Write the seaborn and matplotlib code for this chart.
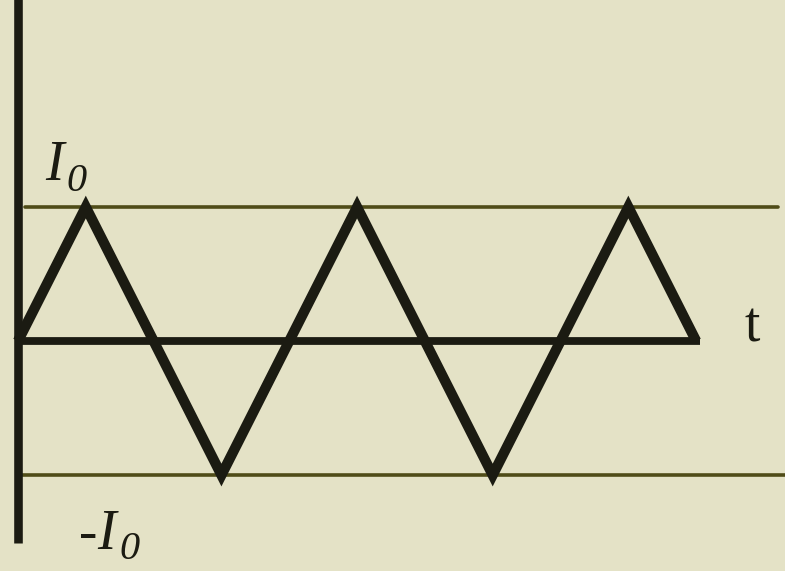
import pandas as pd
import matplotlib
matplotlib.use('Agg')
import matplotlib.pyplot as plt
import seaborn as sns

# triangle wave corners, time in quarter periods, current in units of I0
tiempo = [0, 1, 3, 5, 7, 9, 10]
corriente = [0, 1, -1, 1, -1, 1, 0]

# labels (letter + subscript drawn separately so the 0 stays italic)
letra = 'I'
subindice = '0'
signo = '-'
etiqueta_t = 't'

fondo = '#e4e2c6'
tinta = '#1b1b12'
oliva = '#4f4c18'

sns.set_theme(style="white")
plt.rcParams['font.family'] = ['Liberation Serif', 'DejaVu Serif']

df = pd.DataFrame({'t': tiempo, 'I': corriente})

fig = plt.figure(figsize=(7.85, 5.71), dpi=100, facecolor=fondo)
ax = fig.add_axes([0, 0, 1, 1])
ax.set_facecolor(fondo)

# reference levels +I0 and -I0
ax.plot([0.1, 11.2], [1, 1], color=oliva, lw=2.6, zorder=1)
ax.plot([0.03, 11.4], [-1, -1], color=oliva, lw=2.6, zorder=1)

# axes drawn by hand, like the sketch
ax.plot([0, 10.05], [0, 0], color=tinta, lw=5.6, solid_capstyle='butt', zorder=2)
ax.plot([0, 0], [2.6, -1.51], color=tinta, lw=6.2, solid_capstyle='butt', zorder=3)

sns.lineplot(data=df, x='t', y='I', ax=ax, color=tinta, lw=7.4,
             sort=False, estimator=None, zorder=4)
ax.lines[-1].set_solid_joinstyle('miter')
ax.lines[-1].set_solid_capstyle('butt')

kw = dict(color=tinta, ha='left', va='baseline')
ax.text(0.40, 1.20, letra, fontsize=40, style='italic', **kw)
ax.text(0.71, 1.12, subindice, fontsize=29, style='italic', **kw)

ax.text(0.90, -1.55, signo, fontsize=40, **kw)
ax.text(1.17, -1.55, letra, fontsize=40, style='italic', **kw)
ax.text(1.50, -1.63, subindice, fontsize=29, style='italic', **kw)

ax.text(10.72, 0.0, etiqueta_t, fontsize=40, **kw)

ax.set_xlim(-0.265, 11.31)
ax.set_ylim(-1.716, 2.545)
ax.set_xlabel('')
ax.set_ylabel('')
ax.axis('off')

fig.savefig('out.png', dpi=100, facecolor=fondo)
plt.close(fig)
